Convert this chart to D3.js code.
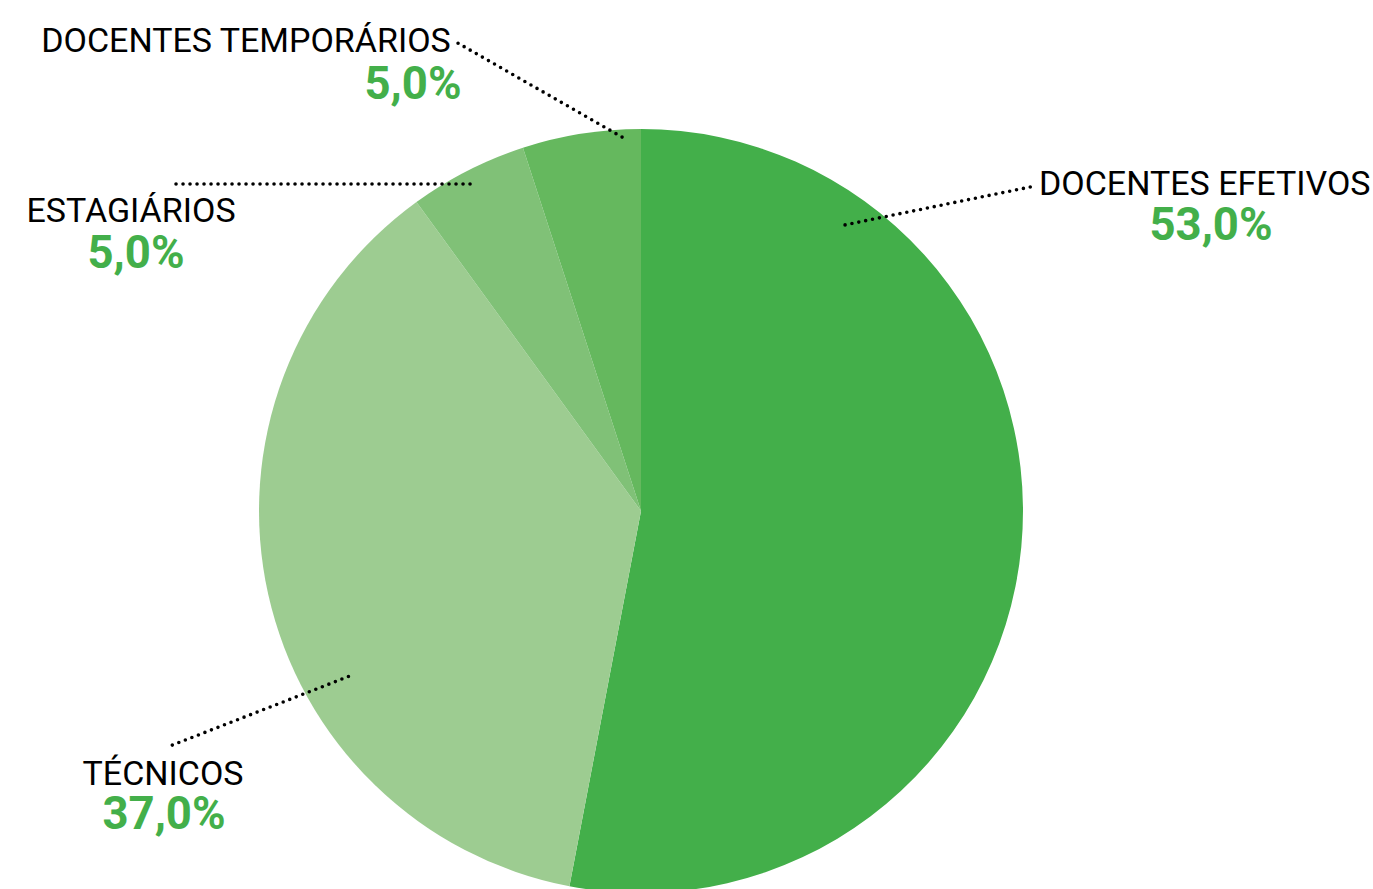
<!DOCTYPE html>
<html>
<head>
<meta charset="utf-8">
<script src="https://cdn.jsdelivr.net/npm/d3@7"></script>
<style>
  html, body { margin: 0; padding: 0; background: #fff; }
  svg { display: block; }
  .name { font-family: Roboto, "Noto Sans", sans-serif; font-size: 34px; fill: #000; }
  .pct { font-family: Roboto, "Noto Sans", sans-serif; font-weight: 700; font-size: 45.5px; fill: #43af4a; }
</style>
</head>
<body>
<script>
// Staff composition (percent of total)
const categories = ["DOCENTES EFETIVOS", "TÉCNICOS", "ESTAGIÁRIOS", "DOCENTES TEMPORÁRIOS"];
const values = [53.0, 37.0, 5.0, 5.0];
const sliceColors = ["#43af4a", "#9dcc91", "#80c177", "#65b85e"];

// Label placement: leader start inside the pie (angle in degrees clockwise from
// 12 o'clock, radius as a fraction of pie radius), leader end, name and value text.
const labelLayout = [
  { angle: 35.5,  rf: 0.92,  end: [1035, 186], name: [1039, 195, "start"], pct: [1211, 240, "middle"] },
  { angle: 240.5, rf: 0.88,  end: [170, 746],  name: [163, 785, "middle"], pct: [164, 829, "middle"] },
  { angle: 332.4, rf: 0.966, end: [170, 184],  name: [131, 222, "middle"], pct: [136, 268, "middle"] },
  { angle: 357.1, rf: 0.98,  end: [456, 42],   name: [246, 52, "middle"],  pct: [413, 99, "middle"] }
];

const width = 1373, height = 889;
const cx = 641, cy = 511, radius = 382;

const svg = d3.select("body").append("svg")
  .attr("width", width)
  .attr("height", height);

const pie = d3.pie().sort(null).value(d => d)(values);
const arc = d3.arc().innerRadius(0).outerRadius(radius);

const g = svg.append("g").attr("transform", `translate(${cx},${cy})`);

g.selectAll("path.slice")
  .data(pie)
  .join("path")
  .attr("class", "slice")
  .attr("d", arc)
  .attr("fill", (d, i) => sliceColors[i]);

// Dotted leader lines
const toRad = deg => deg * Math.PI / 180;
svg.append("g")
  .selectAll("line")
  .data(labelLayout)
  .join("line")
  .attr("x1", d => cx + Math.sin(toRad(d.angle)) * radius * d.rf)
  .attr("y1", d => cy - Math.cos(toRad(d.angle)) * radius * d.rf)
  .attr("x2", d => d.end[0])
  .attr("y2", d => d.end[1])
  .attr("stroke", "#000")
  .attr("stroke-width", 3.6)
  .attr("stroke-linecap", "round")
  .attr("stroke-dasharray", "0 7");

// Category names
svg.append("g")
  .selectAll("text")
  .data(labelLayout)
  .join("text")
  .attr("class", "name")
  .attr("x", d => d.name[0])
  .attr("y", d => d.name[1])
  .attr("text-anchor", d => d.name[2])
  .text((d, i) => categories[i]);

// Percentages
const fmt = v => d3.format(".1f")(v).replace(".", ",") + "%";
svg.append("g")
  .selectAll("text")
  .data(labelLayout)
  .join("text")
  .attr("class", "pct")
  .attr("x", d => d.pct[0])
  .attr("y", d => d.pct[1])
  .attr("text-anchor", d => d.pct[2])
  .text((d, i) => fmt(values[i]));
</script>
</body>
</html>
